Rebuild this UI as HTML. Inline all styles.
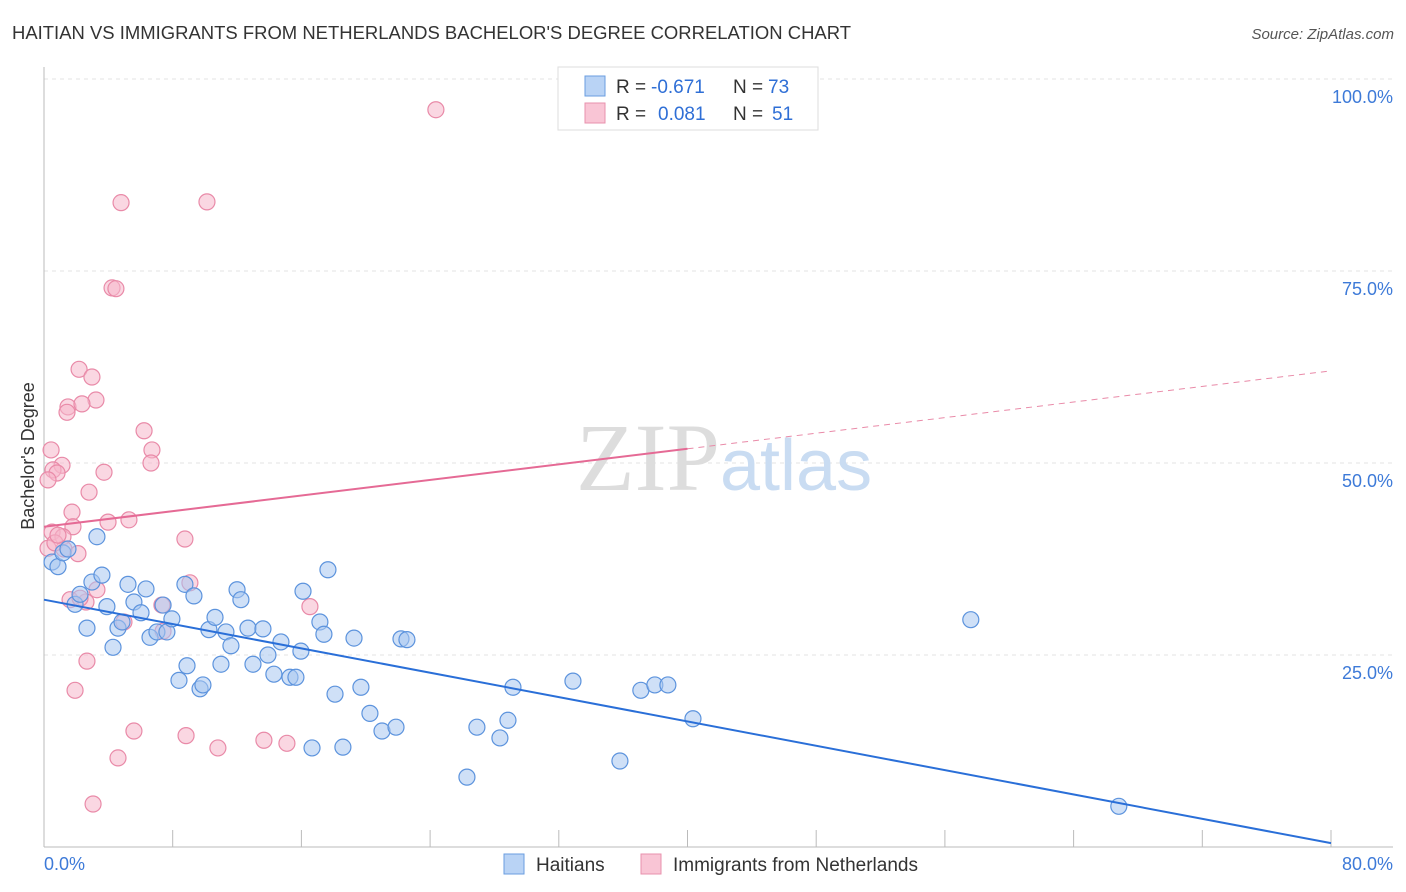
<!DOCTYPE html>
<html><head><meta charset="utf-8"><style>
body{margin:0;background:#fff;font-family:"Liberation Sans",sans-serif;}
svg{display:block}
</style></head><body>
<svg id="chart" width="1406" height="892">
<text x="12" y="39" font-size="18" fill="#333" textLength="839" lengthAdjust="spacingAndGlyphs">HAITIAN VS IMMIGRANTS FROM NETHERLANDS BACHELOR'S DEGREE CORRELATION CHART</text>
<text x="1394" y="39" font-size="15" fill="#555" font-style="italic" text-anchor="end">Source: ZipAtlas.com</text>
<g id="grid"></g>
<text x="720" y="490" font-size="96" font-family="Liberation Serif,serif" fill="#ddd" text-anchor="end">ZIP</text>
<text x="720" y="490" font-size="72" fill="#c9dcf2">atlas</text>
<text x="34" y="456" font-size="18" fill="#333" text-anchor="middle" transform="rotate(-90 34 456)">Bachelor's Degree</text>
<g id="marks"></g>
<g>
<rect x="558" y="67" width="260" height="63" fill="#fff" stroke="#ddd"/>
<rect x="585" y="76" width="20" height="20" fill="#b9d3f5" stroke="#6a9ee0"/>
<rect x="585" y="103" width="20" height="20" fill="#f9c5d5" stroke="#e891ad"/>
<g font-size="19">
<text x="616" y="93" fill="#333">R =</text>
<text x="651" y="93" fill="#2f6fd6">-0.671</text>
<text x="733" y="93" fill="#333">N =</text>
<text x="768" y="93" fill="#2f6fd6">73</text>
<text x="616" y="120" fill="#333">R =</text>
<text x="658" y="120" fill="#2f6fd6">0.081</text>
<text x="733" y="120" fill="#333">N =</text>
<text x="772" y="120" fill="#2f6fd6">51</text>
</g>
</g>
<g>
<rect x="504" y="854" width="20" height="20" fill="#b9d3f5" stroke="#6a9ee0"/>
<text x="536" y="871" font-size="19" fill="#333">Haitians</text>
<rect x="641" y="854" width="20" height="20" fill="#f9c5d5" stroke="#e891ad"/>
<text x="673" y="871" font-size="19" fill="#333">Immigrants from Netherlands</text>
</g>
</svg>
<script>
const yTicks=[100,75,50,25];
const yTickLabels=["100.0%","75.0%","50.0%","25.0%"];
const xTickLabels=["0.0%","80.0%"];
const blueX=[0.50,0.87,1.18,1.49,3.29,1.93,2.24,2.67,2.98,3.60,3.91,4.29,4.60,4.85,5.22,5.59,6.03,6.34,6.59,7.02,7.40,7.64,7.95,8.39,8.76,8.89,9.32,9.70,9.88,10.25,10.63,11.00,11.31,11.62,12.00,12.24,12.68,12.99,13.61,13.92,14.29,14.73,15.29,15.66,15.97,16.10,16.66,17.15,17.40,17.65,18.09,18.58,19.27,19.70,20.26,21.01,21.88,22.19,22.56,26.29,26.91,28.34,28.84,29.15,32.88,35.80,37.10,37.97,38.78,40.34,57.61,66.81];
const blueY=[37.1,36.5,38.3,38.8,40.4,31.6,32.9,28.5,34.5,35.4,31.3,26.0,28.5,29.3,34.2,31.9,30.5,33.6,27.3,28.0,31.5,28.0,29.7,21.7,34.2,23.6,32.7,20.6,21.1,28.3,29.9,23.8,28.0,26.2,33.5,32.2,28.5,23.8,28.4,25.0,22.5,26.7,22.1,22.1,25.5,33.3,12.9,29.3,27.7,36.1,19.9,13.0,27.2,20.8,17.4,15.1,15.6,27.1,27.0,9.1,15.6,14.2,16.5,20.8,21.6,11.2,20.4,21.1,21.1,16.7,29.6,5.3];
const pinkX=[24.36,4.79,10.13,4.23,4.47,2.18,2.98,3.23,1.49,2.36,1.43,6.22,6.71,0.44,6.65,1.12,0.56,0.81,0.25,3.73,2.80,1.74,5.28,3.98,1.80,0.50,1.18,8.76,0.25,1.24,2.11,9.07,3.29,1.62,2.61,7.33,16.53,4.97,7.40,2.67,1.93,5.59,8.83,10.81,13.67,15.10,4.60,3.05,0.68,0.87,2.24];
const pinkY=[96.0,83.9,84.0,72.8,72.7,62.2,61.2,58.2,57.3,57.7,56.6,54.2,51.7,51.7,50.0,49.7,49.1,48.7,47.8,48.8,46.2,43.6,42.6,42.3,41.7,41.0,40.4,40.1,38.9,38.8,38.2,34.4,33.5,32.2,31.9,31.5,31.3,29.3,28.1,24.2,20.4,15.1,14.5,12.9,13.9,13.5,11.6,5.6,39.6,40.6,32.4];
const blueTrend=[32.2,0.5];
const pinkTrend=[41.7,62.0];
const pinkSolidEnd=40;

const NS="http://www.w3.org/2000/svg";
const X=v=>44+v*(1287/80), Y=v=>847-v*7.68;
function mk(tag,attrs,parent){const e=document.createElementNS(NS,tag);for(const k in attrs)e.setAttribute(k,attrs[k]);parent.appendChild(e);return e;}
const grid=document.getElementById('grid'), marks=document.getElementById('marks');
yTicks.forEach((t,i)=>{
 const l=mk('line',{x1:44,x2:1393,y1:Y(t),y2:Y(t),stroke:'#e3e3e3','stroke-dasharray':'4,4'},grid);
 
 
 const tx=mk('text',{x:1393,y:Y(t)+24,'font-size':18,fill:'#3d7ad8','text-anchor':'end'},grid);
 tx.textContent=yTickLabels[i];
 
 
});
const ax=mk('line',{x1:44,x2:44,y1:67,y2:847,stroke:'#bbb'},grid);


const bx=mk('line',{x1:44,x2:1393,y1:847,y2:847,stroke:'#bbb'},grid);


for(let i=0;i<=10;i++){const t=mk('line',{x1:X(i*8),x2:X(i*8),y1:830,y2:847,stroke:'#bbb'},grid);
 
 }
[[0,'start',44],[80,'end',1393]].forEach((d,i)=>{const t=mk('text',{x:d[2],y:870,'font-size':18,fill:'#3d7ad8','text-anchor':d[1]},grid);t.textContent=xTickLabels[i];
 
 });
function pts(xs,ys,fill,stroke,name){xs.forEach((x,i)=>{const c=mk('circle',{cx:X(x),cy:Y(ys[i]),r:8,fill:fill,'fill-opacity':0.55,stroke:stroke,'stroke-width':1.2},marks);
 
 });}
pts(pinkX,pinkY,'#f6b6ca','#e98aa8','netherlands-point');
pts(blueX,blueY,'#a7c7f0','#5c93dd','haitian-point');
const bl=mk('line',{x1:X(0),y1:Y(blueTrend[0]),x2:X(80),y2:Y(blueTrend[1]),stroke:'#2a6fd8','stroke-width':2},marks);


const pm=pinkTrend[0]+(pinkTrend[1]-pinkTrend[0])*pinkSolidEnd/80;
const pl=mk('line',{x1:X(0),y1:Y(pinkTrend[0]),x2:X(pinkSolidEnd),y2:Y(pm),stroke:'#e56a95','stroke-width':2},marks);


const pd=mk('line',{x1:X(pinkSolidEnd),y1:Y(pm),x2:X(80),y2:Y(pinkTrend[1]),stroke:'#e98aa8','stroke-width':1,'stroke-dasharray':'6,5'},marks);


</script>
</body></html>
